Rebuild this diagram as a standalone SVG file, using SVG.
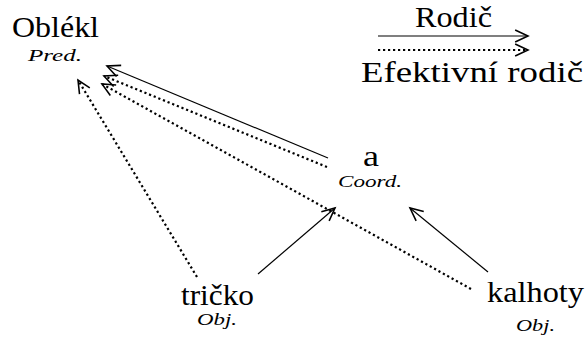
<svg xmlns="http://www.w3.org/2000/svg" width="586" height="337" viewBox="0 0 586 337">
<style>
.w{font-size:29px;fill:#000}
.l{font-size:17px;font-style:italic;fill:#000}
.s{fill:none;stroke:#000;stroke-width:1.2}
.d{fill:none;stroke:#000;stroke-width:2.2;stroke-dasharray:2.2 2.8}
</style>
<defs>
<marker id="ah" markerUnits="userSpaceOnUse" markerWidth="20" markerHeight="20" viewBox="-12 -6 14 12" refX="0" refY="0" orient="auto">
<path d="M-9,-4.2 L0,0 L-9,4.2" fill="none" stroke="#000" stroke-width="1.1"/>
</marker>
</defs>
<rect width="586" height="337" fill="#fff"/>
<g id="connectors">
<line class="s" x1="328" y1="158" x2="107" y2="66" marker-end="url(#ah)"/>
<line class="d" x1="327" y1="167" x2="104" y2="76" marker-end="url(#ah)"/>
<line class="d" x1="471" y1="289" x2="102" y2="84" marker-end="url(#ah)"/>
<line class="d" x1="197" y1="277" x2="78" y2="80" marker-end="url(#ah)"/>
<line class="s" x1="258" y1="274" x2="335" y2="208" marker-end="url(#ah)"/>
<line class="s" x1="488" y1="272" x2="410" y2="208" marker-end="url(#ah)"/>
</g>
<g font-family="Liberation Serif, DejaVu Serif, serif">
<g id="legend">
<text class="w" x="415" y="27" textLength="77" lengthAdjust="spacingAndGlyphs">Rodič</text>
<line class="s" x1="378" y1="36" x2="528" y2="36" marker-end="url(#ah)"/>
<line class="d" x1="378" y1="50" x2="528" y2="50" marker-end="url(#ah)"/>
<text class="w" x="361" y="82" textLength="222" lengthAdjust="spacingAndGlyphs">Efektivní rodič</text>
</g>
<g id="oblekl">
<text class="w" x="12" y="37" textLength="87" lengthAdjust="spacingAndGlyphs">Oblékl</text>
<text class="l" x="28" y="61" textLength="54" lengthAdjust="spacingAndGlyphs">Pred.</text>
</g>
<g id="a">
<text class="w" x="363" y="166" textLength="16" lengthAdjust="spacingAndGlyphs">a</text>
<text class="l" x="338" y="187" textLength="64" lengthAdjust="spacingAndGlyphs">Coord.</text>
</g>
<g id="tricko">
<text class="w" x="181" y="305" textLength="73" lengthAdjust="spacingAndGlyphs">tričko</text>
<text class="l" x="197" y="325" textLength="40" lengthAdjust="spacingAndGlyphs">Obj.</text>
</g>
<g id="kalhoty">
<text class="w" x="487" y="302" textLength="97" lengthAdjust="spacingAndGlyphs">kalhoty</text>
<text class="l" x="516" y="331" textLength="39" lengthAdjust="spacingAndGlyphs">Obj.</text>
</g>
</g>
</svg>
